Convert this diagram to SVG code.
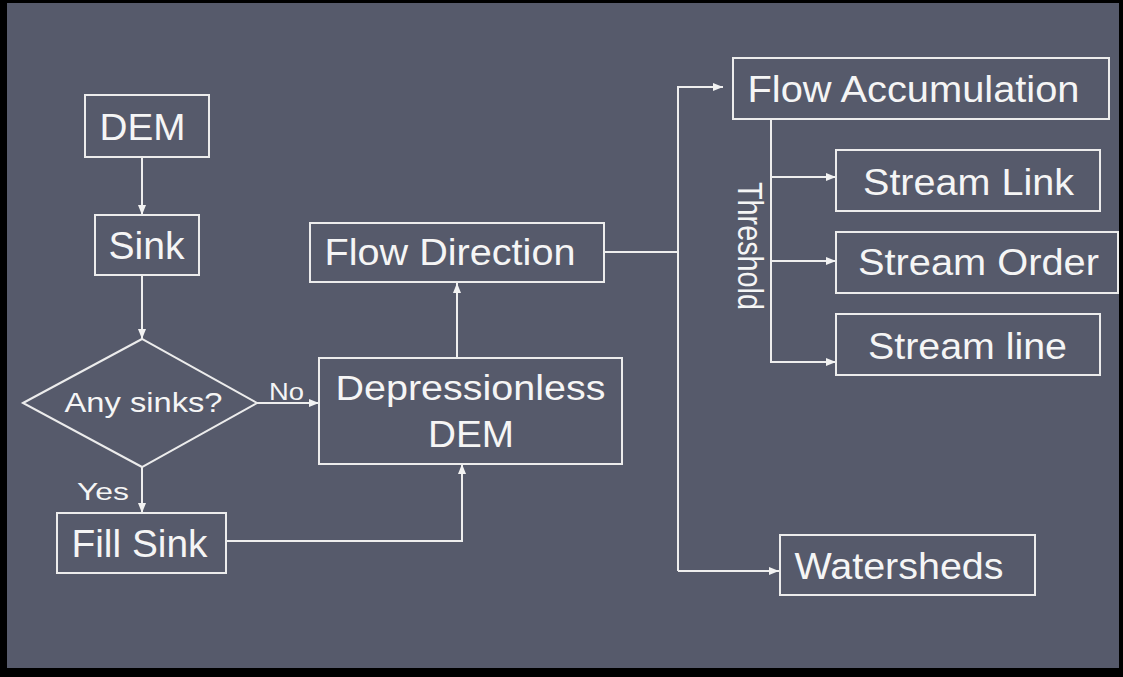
<svg xmlns="http://www.w3.org/2000/svg" width="1123" height="677" viewBox="0 0 1123 677">
<defs>
<marker id="arr" markerUnits="userSpaceOnUse" markerWidth="11" markerHeight="9" refX="10" refY="4.5" orient="auto">
<path d="M0,0.5 L10,4.5 L0,8.5 z" fill="#f2f2f2"/>
</marker>
<style>
.box{fill:none;stroke:#ececec;stroke-width:2}
.t{font-family:"Liberation Sans",Arial,sans-serif;fill:#f5f5f5}
.c{fill:none;stroke:#eeeeee;stroke-width:2}
.a{marker-end:url(#arr)}
</style>
</defs>
<rect x="0" y="0" width="1123" height="677" fill="#000"/>
<rect x="7" y="3" width="1112" height="665" fill="#565a6b"/>
<g id="connectors">
<path class="c a" d="M142,157 L142,215"/>
<path class="c a" d="M142,275 L142,339"/>
<path class="c a" d="M142,467 L142,513"/>
<path class="c a" d="M257,403 L319,403"/>
<path class="c a" d="M226,541 L462,541 L462,464"/>
<path class="c a" d="M457,358 L457,283"/>
<path class="c" d="M604,252 L678,252"/>
<path class="c a" d="M678,571 L678,87 L723,87"/>
<path class="c a" d="M678,571 L779,571"/>
<path class="c a" d="M771,119 L771,362 L836,362"/>
<path class="c a" d="M771,177 L836,177"/>
<path class="c a" d="M771,261 L836,261"/>
<text class="t" x="286.5" y="400" font-size="23" text-anchor="middle" textLength="35" lengthAdjust="spacingAndGlyphs">No</text>
<text class="t" x="103" y="500" font-size="24" text-anchor="middle" textLength="52" lengthAdjust="spacingAndGlyphs">Yes</text>
<text class="t" font-size="28" textLength="128" lengthAdjust="spacingAndGlyphs" transform="translate(738,182) rotate(90) scale(1,1.22)">Threshold</text>
</g>
<g id="dem">
<rect class="box" x="85" y="95" width="124" height="62"/>
<text class="t" x="142.5" y="140" font-size="37" text-anchor="middle" textLength="86" lengthAdjust="spacingAndGlyphs">DEM</text>
</g>
<g id="sink">
<rect class="box" x="95" y="215" width="104" height="60"/>
<text class="t" x="146.5" y="259" font-size="38" text-anchor="middle" textLength="76" lengthAdjust="spacingAndGlyphs">Sink</text>
</g>
<g id="any-sinks">
<polygon class="box" points="23,403 142,339 257,403 142,467"/>
<text class="t" x="143.5" y="412" font-size="28" text-anchor="middle" textLength="158" lengthAdjust="spacingAndGlyphs">Any sinks?</text>
</g>
<g id="fill-sink">
<rect class="box" x="57" y="513" width="169" height="60"/>
<text class="t" x="139.5" y="556.5" font-size="38" text-anchor="middle" textLength="136" lengthAdjust="spacingAndGlyphs">Fill Sink</text>
</g>
<g id="depressionless-dem">
<rect class="box" x="319" y="358" width="303" height="106"/>
<text class="t" x="470.5" y="400" font-size="35" text-anchor="middle" textLength="270" lengthAdjust="spacingAndGlyphs">Depressionless</text>
<text class="t" x="471" y="447" font-size="36" text-anchor="middle" textLength="86" lengthAdjust="spacingAndGlyphs">DEM</text>
</g>
<g id="flow-direction">
<rect class="box" x="310" y="223" width="294" height="59"/>
<text class="t" x="450" y="265" font-size="37" text-anchor="middle" textLength="251" lengthAdjust="spacingAndGlyphs">Flow Direction</text>
</g>
<g id="flow-accumulation">
<rect class="box" x="733" y="58" width="376" height="61"/>
<text class="t" x="913.5" y="101.5" font-size="37" text-anchor="middle" textLength="332" lengthAdjust="spacingAndGlyphs">Flow Accumulation</text>
</g>
<g id="stream-link">
<rect class="box" x="836" y="150" width="264" height="61"/>
<text class="t" x="968.5" y="194.5" font-size="37" text-anchor="middle" textLength="211" lengthAdjust="spacingAndGlyphs">Stream Link</text>
</g>
<g id="stream-order">
<rect class="box" x="836" y="232" width="282" height="61"/>
<text class="t" x="978.5" y="275" font-size="37" text-anchor="middle" textLength="241" lengthAdjust="spacingAndGlyphs">Stream Order</text>
</g>
<g id="stream-line">
<rect class="box" x="836" y="314" width="264" height="61"/>
<text class="t" x="967.5" y="358.5" font-size="37" text-anchor="middle" textLength="199" lengthAdjust="spacingAndGlyphs">Stream line</text>
</g>
<g id="watersheds">
<rect class="box" x="780" y="535" width="255" height="60"/>
<text class="t" x="899" y="579" font-size="37" text-anchor="middle" textLength="209" lengthAdjust="spacingAndGlyphs">Watersheds</text>
</g>
</svg>
